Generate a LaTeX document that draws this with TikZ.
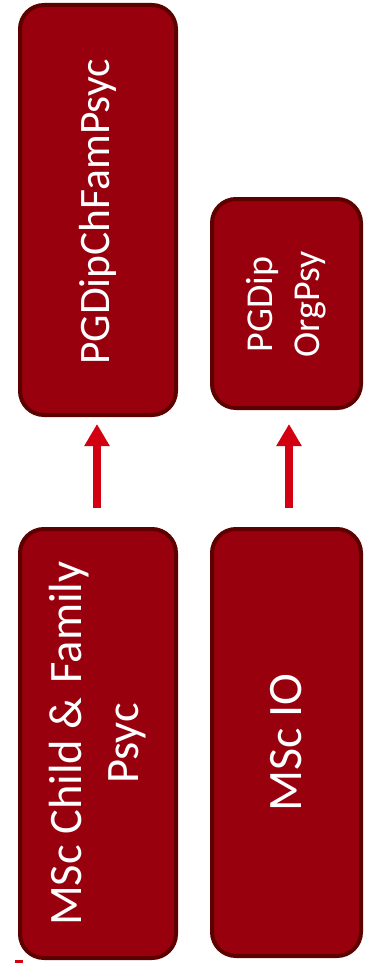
\documentclass[tikz,border=0pt]{standalone}
\usepackage{fontspec}
\setmainfont{Carlito}
\usetikzlibrary{arrows.meta}
\definecolor{boxfill}{HTML}{98000E}
\definecolor{boxline}{HTML}{5C0000}
\definecolor{arrowred}{HTML}{D20010}
\tikzset{
  progbox/.style={draw=boxline, fill=boxfill, line width=4pt, rounded corners=24pt, inner sep=0pt},
  lbl/.style={text=white, rotate=90, align=center, inner sep=0pt},
  uparrow/.style={draw=arrowred, line width=8pt, -{Triangle[width=24pt,length=22pt]}}
}
\begin{document}
\begin{tikzpicture}[x=1pt,y=-1pt]
\useasboundingbox (0,0) rectangle (364,963);
\node[progbox, minimum width=156pt, minimum height=410pt] (b1) at (98,210) {};
\node[progbox, minimum width=149pt, minimum height=209pt] (b2) at (286.5,303.5) {};
\node[progbox, minimum width=156pt, minimum height=429pt] (b3) at (98,743.5) {};
\node[progbox, minimum width=149pt, minimum height=427pt] (b4) at (286.5,742.5) {};
\node[lbl, font=\fontsize{43.5}{52}\selectfont] (t1) at ([yshift=-2pt]b1.center) {PGDipChFamPsyc};
\node[lbl, font=\fontsize{38}{47}\selectfont] (t2) at ([yshift=-1pt]b2.center) {PGDip\\OrgPsy};
\node[lbl, font=\fontsize{46.5}{57}\selectfont] (t3) at (b3.center) {MSc Child \&\hspace{0.08em} Family\\Psyc};
\node[lbl, font=\fontsize{48}{58}\selectfont] (t4) at (b4.center) {MSc IO};
\draw[uparrow, shorten <=19pt, shorten >=7pt] ([xshift=-1pt]b3.north) -- ([xshift=-1pt]b1.south);
\draw[uparrow, shorten <=19pt, shorten >=14pt] ([xshift=2.5pt]b4.north) -- ([xshift=2.5pt]b2.south);
\fill[arrowred] (15,960) rectangle (23,963);
\end{tikzpicture}
\end{document}
